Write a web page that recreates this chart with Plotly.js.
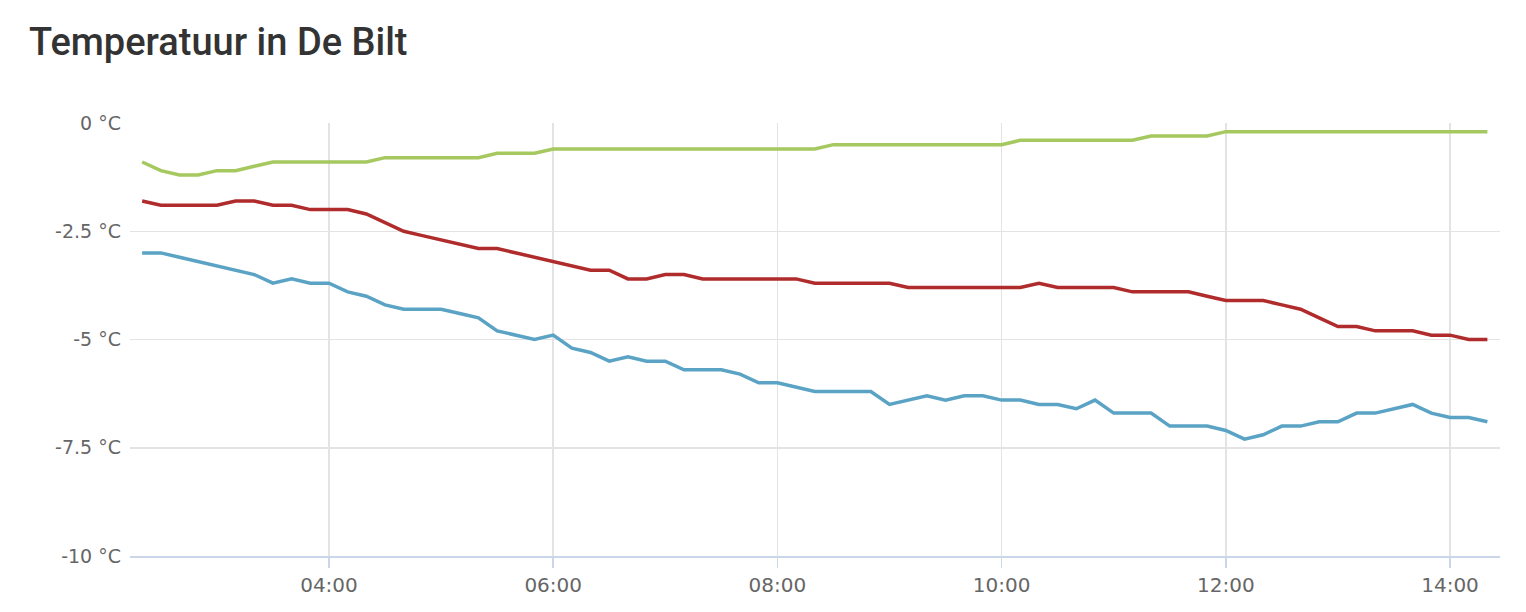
<!DOCTYPE html>
<html>
<head>
<meta charset="utf-8">
<script src="https://cdn.plot.ly/plotly-3.0.1.min.js"></script>
<style>
  html, body { margin: 0; padding: 0; background: #fff; }
  #chart { width: 1526px; height: 612px; }
</style>
</head>
<body>
<div id="chart"></div>
<script>
// metingen elke 10 minuten, 02:20 t/m 14:20
const times = [
    '02:20', '02:30', '02:40', '02:50', '03:00', '03:10', '03:20', '03:30', '03:40', '03:50',
    '04:00', '04:10', '04:20', '04:30', '04:40', '04:50', '05:00', '05:10', '05:20', '05:30',
    '05:40', '05:50', '06:00', '06:10', '06:20', '06:30', '06:40', '06:50', '07:00', '07:10',
    '07:20', '07:30', '07:40', '07:50', '08:00', '08:10', '08:20', '08:30', '08:40', '08:50',
    '09:00', '09:10', '09:20', '09:30', '09:40', '09:50', '10:00', '10:10', '10:20', '10:30',
    '10:40', '10:50', '11:00', '11:10', '11:20', '11:30', '11:40', '11:50', '12:00', '12:10',
    '12:20', '12:30', '12:40', '12:50', '13:00', '13:10', '13:20', '13:30', '13:40', '13:50',
    '14:00', '14:10', '14:20'
];

const tempGreen = [
    -0.9, -1.1, -1.2, -1.2, -1.1, -1.1, -1.0, -0.9, -0.9, -0.9,
    -0.9, -0.9, -0.9, -0.8, -0.8, -0.8, -0.8, -0.8, -0.8, -0.7,
    -0.7, -0.7, -0.6, -0.6, -0.6, -0.6, -0.6, -0.6, -0.6, -0.6,
    -0.6, -0.6, -0.6, -0.6, -0.6, -0.6, -0.6, -0.5, -0.5, -0.5,
    -0.5, -0.5, -0.5, -0.5, -0.5, -0.5, -0.5, -0.4, -0.4, -0.4,
    -0.4, -0.4, -0.4, -0.4, -0.3, -0.3, -0.3, -0.3, -0.2, -0.2,
    -0.2, -0.2, -0.2, -0.2, -0.2, -0.2, -0.2, -0.2, -0.2, -0.2,
    -0.2, -0.2, -0.2
];

const tempRed = [
    -1.8, -1.9, -1.9, -1.9, -1.9, -1.8, -1.8, -1.9, -1.9, -2.0,
    -2.0, -2.0, -2.1, -2.3, -2.5, -2.6, -2.7, -2.8, -2.9, -2.9,
    -3.0, -3.1, -3.2, -3.3, -3.4, -3.4, -3.6, -3.6, -3.5, -3.5,
    -3.6, -3.6, -3.6, -3.6, -3.6, -3.6, -3.7, -3.7, -3.7, -3.7,
    -3.7, -3.8, -3.8, -3.8, -3.8, -3.8, -3.8, -3.8, -3.7, -3.8,
    -3.8, -3.8, -3.8, -3.9, -3.9, -3.9, -3.9, -4.0, -4.1, -4.1,
    -4.1, -4.2, -4.3, -4.5, -4.7, -4.7, -4.8, -4.8, -4.8, -4.9,
    -4.9, -5.0, -5.0
];

const tempBlue = [
    -3.0, -3.0, -3.1, -3.2, -3.3, -3.4, -3.5, -3.7, -3.6, -3.7,
    -3.7, -3.9, -4.0, -4.2, -4.3, -4.3, -4.3, -4.4, -4.5, -4.8,
    -4.9, -5.0, -4.9, -5.2, -5.3, -5.5, -5.4, -5.5, -5.5, -5.7,
    -5.7, -5.7, -5.8, -6.0, -6.0, -6.1, -6.2, -6.2, -6.2, -6.2,
    -6.5, -6.4, -6.3, -6.4, -6.3, -6.3, -6.4, -6.4, -6.5, -6.5,
    -6.6, -6.4, -6.7, -6.7, -6.7, -7.0, -7.0, -7.0, -7.1, -7.3,
    -7.2, -7.0, -7.0, -6.9, -6.9, -6.7, -6.7, -6.6, -6.5, -6.7,
    -6.8, -6.8, -6.9
];

const yTickVals = [0, -2.5, -5, -7.5, -10];
const yTickLabels = ['0 °C', '-2.5 °C', '-5 °C', '-7.5 °C', '-10 °C'];

const day = '2021-02-07 ';
const x = times.map(t => day + t);

function serie(values, color) {
    return {
        x: x,
        y: values,
        type: 'scatter',
        mode: 'lines',
        line: { color: color, width: 3.5, shape: 'linear' },
        hoverinfo: 'x+y'
    };
}

const data = [
    serie(tempGreen, '#a5c85f'),
    serie(tempRed, '#b02b2b'),
    serie(tempBlue, '#5aa3c5')
];

const layout = {
    width: 1526,
    height: 612,
    paper_bgcolor: '#ffffff',
    plot_bgcolor: '#ffffff',
    showlegend: false,
    font: { family: 'DejaVu Sans, sans-serif', color: '#666666', size: 20 },
    margin: { l: 130, r: 26, t: 123, b: 56 },
    title: {
        text: 'Temperatuur in De Bilt',
        font: { family: 'Roboto, sans-serif', size: 38, color: '#333333', weight: 500 },
        xref: 'container',
        yref: 'container',
        x: 29 / 1526,
        xanchor: 'left',
        y: 1 - 42 / 612,
        yanchor: 'middle'
    },
    xaxis: {
        type: 'date',
        range: [day + '02:13:30', day + '14:26:45'],
        dtick: 2 * 3600 * 1000,
        tick0: day + '00:00',
        tickformat: '%H:%M',
        showgrid: true,
        gridcolor: '#e3e3e3',
        gridwidth: 1.5,
        showline: true,
        linecolor: '#ccd6eb',
        linewidth: 1.5,
        ticks: 'outside',
        ticklen: 10,
        tickwidth: 1.5,
        tickcolor: '#ccd6eb',
        tickfont: { size: 20, color: '#666666' },
        zeroline: false,
        fixedrange: true
    },
    yaxis: {
        range: [-10, 0],
        tickvals: yTickVals,
        ticktext: yTickLabels,
        showgrid: true,
        gridcolor: '#e3e3e3',
        gridwidth: 1.5,
        zeroline: false,
        showline: false,
        ticks: '',
        ticklabelstandoff: 8,
        tickfont: { size: 19, color: '#666666' },
        fixedrange: true
    }
};

Plotly.newPlot('chart', data, layout, { displayModeBar: false, staticPlot: true });
</script>
</body>
</html>
